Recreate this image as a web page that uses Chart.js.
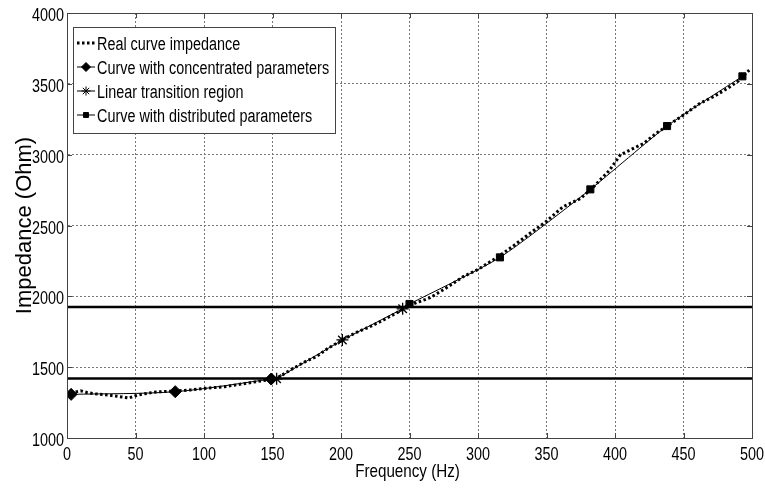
<!DOCTYPE html>
<html>
<head>
<meta charset="utf-8">
<script src="https://cdn.jsdelivr.net/npm/chart.js@4.4.1/dist/chart.umd.min.js"></script>
<style>
  html, body { margin: 0; padding: 0; background: #fff; }
  canvas { display: block; }
</style>
</head>
<body>
<canvas id="impChart" width="765" height="489"></canvas>
<script>
// measured impedance vs frequency
const freqReal = [3, 6, 10, 15, 20, 30, 40, 45, 50, 55, 65, 80, 90, 100, 115, 130, 145, 150, 155, 163,
  175, 182, 190, 201, 210, 221, 231, 240, 246, 255, 265, 277, 289, 300, 314, 325, 338, 350, 362, 375,
  385, 396, 404, 421, 430, 438, 450, 462, 472, 482, 490, 498];
const impReal = [1310, 1325, 1333, 1320, 1312, 1303, 1290, 1282, 1298, 1310, 1325, 1332, 1339, 1350, 1362, 1385, 1408, 1418, 1432, 1480,
  1545, 1574, 1630, 1692, 1740, 1785, 1833, 1880, 1915, 1955, 1990, 2060, 2138, 2190, 2275, 2350, 2445, 2530, 2632, 2691,
  2780, 2890, 3000, 3080, 3150, 3202, 3280, 3362, 3410, 3467, 3520, 3597];

// lumped model (low frequencies)
const freqConc = [3, 79, 149];
const impConc = [1308, 1327, 1416];

// linear transition
const freqLin = [153, 201, 245];
const impLin = [1418, 1692, 1912];

// distributed model (high frequencies)
const freqDist = [250, 316, 382, 438, 493];
const impDist = [1946, 2275, 2755, 3202, 3553];

// horizontal reference levels
const freqRange = [0, 500];
const levelHigh = 1925;
const levelLow = 1420;

const xTicks = [0, 50, 100, 150, 200, 250, 300, 350, 400, 450, 500];
const yTicks = [1000, 1500, 2000, 2500, 3000, 3500, 4000];
const xLabel = 'Frequency (Hz)';
const yLabel = 'Impedance (Ohm)';

const pts = (xs, ys) => xs.map((x, i) => ({ x: x, y: ys[i] }));
const flat = (xs, v) => xs.map(x => ({ x: x, y: v }));

const FAMILY = '"Liberation Sans", Arial, sans-serif';
const SQUEEZE = 0.8; // narrow lettering
Chart.defaults.font.family = FAMILY;
Chart.defaults.color = '#000';

function narrowText(ctx, text, x, y, align, size) {
  ctx.save();
  ctx.font = size + 'px ' + FAMILY;
  ctx.textAlign = align;
  ctx.textBaseline = 'alphabetic';
  ctx.translate(x, y);
  ctx.scale(SQUEEZE, 1);
  ctx.fillText(text, 0, 0);
  ctx.restore();
}

// box, inward tick marks, tick labels and legend inside the plot
const framePlugin = {
  id: 'frame',
  afterDraw(chart) {
    const ctx = chart.ctx;
    const a = chart.chartArea;
    const xs = chart.scales.x, ys = chart.scales.y;
    ctx.save();
    ctx.strokeStyle = '#444';
    ctx.lineWidth = 1;
    ctx.setLineDash([]);
    ctx.beginPath();
    xTicks.forEach(v => {
      const px = Math.round(xs.getPixelForValue(v)) + 0.5;
      ctx.moveTo(px, a.bottom); ctx.lineTo(px, a.bottom - 5);
      ctx.moveTo(px, a.top); ctx.lineTo(px, a.top + 5);
    });
    yTicks.forEach(v => {
      const py = Math.round(ys.getPixelForValue(v)) + 0.5;
      ctx.moveTo(a.left, py); ctx.lineTo(a.left + 5, py);
      ctx.moveTo(a.right, py); ctx.lineTo(a.right - 5, py);
    });
    ctx.stroke();
    ctx.strokeRect(Math.round(a.left) + 0.5, Math.round(a.top) + 0.5,
      Math.round(a.right - a.left), Math.round(a.bottom - a.top));

    // tick labels
    ctx.fillStyle = '#000';
    xTicks.forEach(v => narrowText(ctx, String(v), xs.getPixelForValue(v), a.bottom + 22, 'center', 18));
    yTicks.forEach(v => narrowText(ctx, String(v), a.left - 3, ys.getPixelForValue(v) + 8, 'right', 18));
    narrowText(ctx, xLabel, (a.left + a.right) / 2 - 2, 477, 'center', 19);

    // legend
    const bx = 73.5, by = 27.5, bw = 262, bh = 106;
    ctx.fillStyle = '#fff';
    ctx.fillRect(bx, by, bw, bh);
    ctx.strokeStyle = '#444';
    ctx.strokeRect(bx, by, bw, bh);
    chart.data.datasets.filter(d => d.label).forEach((ds, i) => {
      const cy = 43 + i * 24;
      ctx.strokeStyle = '#000';
      ctx.fillStyle = '#000';
      ctx.lineWidth = ds.borderWidth;
      ctx.setLineDash(ds.borderDash || []);
      ctx.beginPath();
      ctx.moveTo(77, cy); ctx.lineTo(95, cy);
      ctx.stroke();
      ctx.setLineDash([]);
      if (ds.pointRadius > 0) {
        ctx.lineWidth = 1;
        Chart.helpers.drawPoint(ctx, { pointStyle: ds.pointStyle, radius: ds.pointRadius - 1.5, borderWidth: 1, rotation: 0 }, 86, cy);
      }
      narrowText(ctx, ds.label, 97, cy + 6.5, 'left', 18);
    });
    ctx.restore();
  }
};

new Chart(document.getElementById('impChart'), {
  type: 'scatter',
  data: {
    datasets: [
      {
        label: 'Real curve impedance',
        data: pts(freqReal, impReal),
        showLine: true,
        borderColor: '#000',
        borderWidth: 3,
        borderDash: [2.5, 2.5],
        pointRadius: 0
      },
      {
        label: 'Curve with concentrated parameters',
        data: pts(freqConc, impConc),
        showLine: true,
        tension: 0.3,
        borderColor: '#000',
        backgroundColor: '#000',
        borderWidth: 1,
        pointStyle: 'rectRot',
        pointRadius: 6
      },
      {
        label: 'Linear transition region',
        data: pts(freqLin, impLin),
        showLine: true,
        borderColor: '#000',
        backgroundColor: '#000',
        borderWidth: 1,
        pointStyle: 'star',
        pointRadius: 6,
        pointBorderWidth: 1.3
      },
      {
        label: 'Curve with distributed parameters',
        data: pts(freqDist, impDist),
        showLine: true,
        tension: 0.2,
        borderColor: '#000',
        backgroundColor: '#000',
        borderWidth: 1,
        pointStyle: 'rect',
        pointRadius: 5
      },
      {
        data: flat(freqRange, levelHigh),
        showLine: true,
        borderColor: '#000',
        borderWidth: 2.5,
        pointRadius: 0
      },
      {
        data: flat(freqRange, levelLow),
        showLine: true,
        borderColor: '#000',
        borderWidth: 2.5,
        pointRadius: 0
      }
    ]
  },
  options: {
    responsive: false,
    animation: false,
    devicePixelRatio: 1,
    layout: { padding: { top: 13, right: 13, left: 0, bottom: 0 } },
    plugins: {
      legend: { display: false },
      tooltip: { enabled: false }
    },
    scales: {
      x: {
        type: 'linear',
        min: 0,
        max: 500,
        afterBuildTicks: s => { s.ticks = xTicks.map(v => ({ value: v })); },
        afterFit: s => { s.height = 51; },
        grid: { color: '#777', drawTicks: false },
        border: { display: true, color: '#444', dash: [2, 2] },
        ticks: { display: false }
      },
      y: {
        type: 'linear',
        min: 1000,
        max: 4000,
        afterBuildTicks: s => { s.ticks = yTicks.map(v => ({ value: v })); },
        afterFit: s => { s.width = 67; },
        grid: { color: '#777', drawTicks: false },
        border: { display: true, color: '#444', dash: [2, 2] },
        ticks: { display: false },
        title: {
          display: true,
          text: yLabel,
          font: { size: 22 },
          padding: { top: 12, bottom: 0 }
        }
      }
    }
  },
  plugins: [framePlugin]
});
</script>
</body>
</html>
